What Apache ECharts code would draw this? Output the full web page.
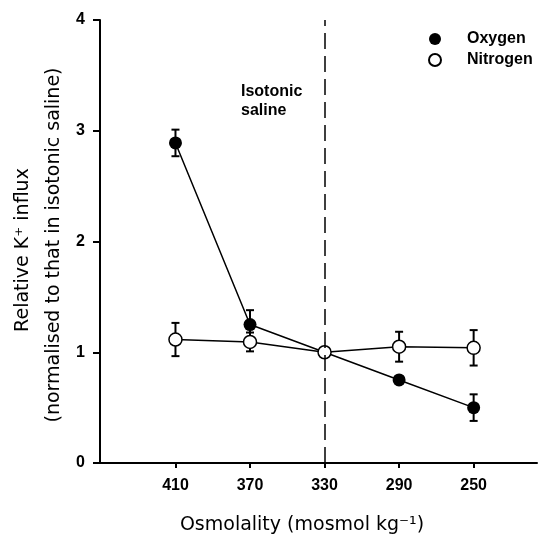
<!DOCTYPE html>
<html>
<head>
<meta charset="UTF-8">
<title>Relative K+ influx vs osmolality</title>
<script src="https://cdn.jsdelivr.net/npm/echarts@6/dist/echarts.min.js"></script>
<style>
  html, body { margin: 0; padding: 0; background: #fff; }
  #main { width: 545px; height: 536px; }
</style>
</head>
<body>
<div id="main"></div>
<script type="text/javascript">
// osmolality (mosmol kg-1), x axis runs high -> low
var osmolality = [410, 370, 330, 290, 250];
var tickValues = [410, 370, 330, 290, 250];
var isotonic = 330;

// relative K+ influx, mean and error (half bar)
var oxygenMean = [2.89, 1.25, 1.0, 0.75, 0.50];
var oxygenErr = [0.12, 0.13, 0, 0, 0.12];
var nitrogenMean = [1.115, 1.093, 1.0, 1.05, 1.04];
var nitrogenErr = [0.15, 0.085, 0, 0.135, 0.16];

var labelFont = "'Liberation Sans', Arial, sans-serif";
var titleFont = "'DejaVu Sans', sans-serif";

function points(mean) {
  return osmolality.map(function (x, i) { return [x, mean[i]]; });
}
function bars(mean, err) {
  var out = [];
  for (var i = 0; i < osmolality.length; i++) {
    if (err[i] > 0) out.push([osmolality[i], mean[i] - err[i], mean[i] + err[i]]);
  }
  return out;
}

// error bar: vertical line with caps
function renderErr(params, api) {
  var x = api.value(0);
  var lo = api.coord([x, api.value(1)]);
  var hi = api.coord([x, api.value(2)]);
  var cap = 4;
  var st = { stroke: '#000', lineWidth: 2 };
  return {
    type: 'group',
    children: [
      { type: 'line', shape: { x1: hi[0], y1: hi[1], x2: lo[0], y2: lo[1] }, style: st },
      { type: 'line', shape: { x1: hi[0] - cap, y1: hi[1], x2: hi[0] + cap, y2: hi[1] }, style: st },
      { type: 'line', shape: { x1: lo[0] - cap, y1: lo[1], x2: lo[0] + cap, y2: lo[1] }, style: st }
    ]
  };
}

var myChart = echarts.init(document.getElementById('main'));

var option = {
  animation: false,
  grid: { left: 100, right: 8, top: 20, bottom: 73 },
  xAxis: {
    type: 'value',
    inverse: true,
    min: 216,
    max: 450.5,
    splitLine: { show: false },
    axisLine: { show: true, lineStyle: { color: '#000', width: 2 } },
    axisTick: { show: true, length: 5, lineStyle: { color: '#000', width: 2 }, customValues: tickValues },
    axisLabel: {
      customValues: tickValues,
      margin: 15,
      color: '#000',
      fontSize: 16,
      fontWeight: 'bold',
      fontFamily: labelFont
    }
  },
  yAxis: {
    type: 'value',
    min: 0,
    max: 4,
    interval: 1,
    splitLine: { show: false },
    axisLine: { show: true, lineStyle: { color: '#000', width: 2 } },
    axisTick: { show: true, length: 7, lineStyle: { color: '#000', width: 2 } },
    axisLabel: {
      margin: 15,
      color: '#000',
      fontSize: 16,
      fontWeight: 'bold',
      fontFamily: labelFont
    }
  },
  legend: {
    orient: 'vertical',
    left: 423,
    top: 26,
    itemWidth: 12,
    itemHeight: 12,
    itemGap: 5,
    icon: 'circle',
    data: ['Oxygen', 'Nitrogen'],
    textStyle: {
      color: '#000',
      fontSize: 16,
      fontWeight: 'bold',
      fontFamily: labelFont,
      padding: [0, 0, 0, 21]
    }
  },
  graphic: [
    {
      type: 'text',
      left: 241,
      top: 82,
      style: {
        text: 'Isotonic\nsaline',
        font: 'bold 16px ' + labelFont,
        lineHeight: 19,
        fill: '#000'
      }
    },
    {
      type: 'text',
      x: 23,
      y: 250,
      rotation: Math.PI / 2,
      style: {
        text: 'Relative K⁺ influx',
        font: '19px ' + titleFont,
        textAlign: 'center',
        textVerticalAlign: 'middle',
        fill: '#000'
      }
    },
    {
      type: 'text',
      x: 54,
      y: 245,
      rotation: Math.PI / 2,
      style: {
        text: '(normalised to that in isotonic saline)',
        font: '19px ' + titleFont,
        textAlign: 'center',
        textVerticalAlign: 'middle',
        fill: '#000'
      }
    },
    {
      type: 'text',
      x: 302,
      y: 525,
      style: {
        text: 'Osmolality (mosmol kg⁻¹)',
        font: '19px ' + titleFont,
        textAlign: 'center',
        textVerticalAlign: 'middle',
        fill: '#000'
      }
    }
  ],
  series: [
    {
      name: 'errOxygen',
      type: 'custom',
      renderItem: renderErr,
      encode: { x: 0, y: [1, 2] },
      data: bars(oxygenMean, oxygenErr),
      z: 1
    },
    {
      name: 'errNitrogen',
      type: 'custom',
      renderItem: renderErr,
      encode: { x: 0, y: [1, 2] },
      data: bars(nitrogenMean, nitrogenErr),
      z: 1
    },
    {
      name: 'Oxygen',
      type: 'line',
      data: points(oxygenMean),
      symbol: 'circle',
      symbolSize: 13,
      lineStyle: { color: '#000', width: 1.5 },
      itemStyle: { color: '#000' },
      z: 3,
      markLine: {
        silent: true,
        symbol: 'none',
        label: { show: false },
        lineStyle: { color: '#000', width: 1.5, type: [16, 7] },
        data: [{ xAxis: isotonic }]
      }
    },
    {
      name: 'Nitrogen',
      type: 'line',
      data: points(nitrogenMean),
      symbol: 'circle',
      symbolSize: 13,
      lineStyle: { color: '#000', width: 1.5 },
      itemStyle: { color: '#fff', borderColor: '#000', borderWidth: 1.5 },
      z: 4
    }
  ]
};

myChart.setOption(option);
</script>
</body>
</html>
